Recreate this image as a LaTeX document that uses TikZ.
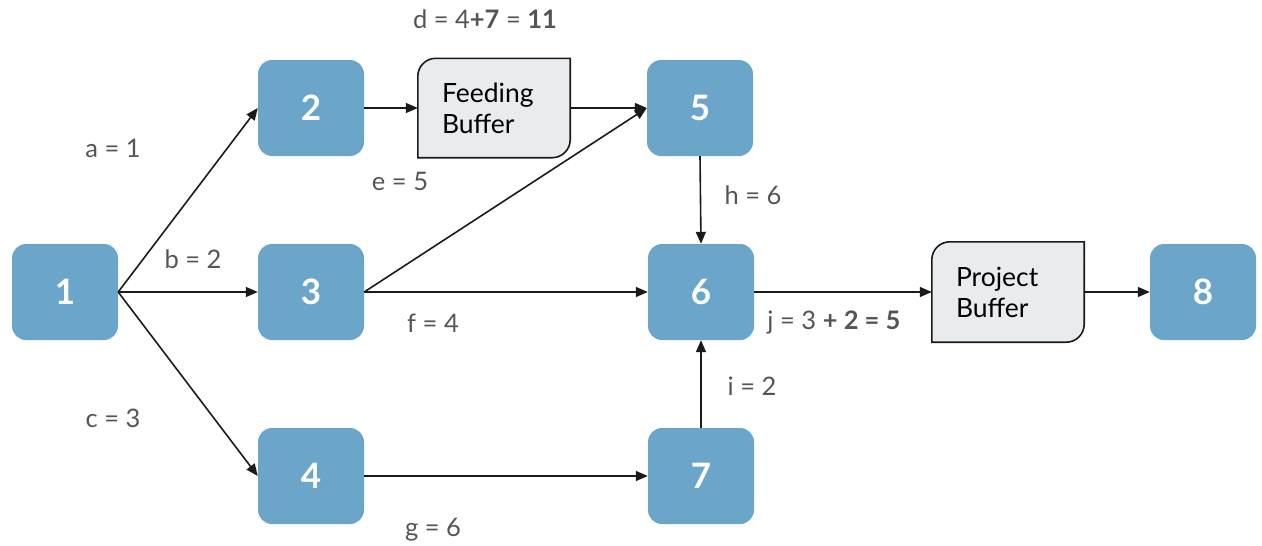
\documentclass[tikz,border=0pt]{standalone}
\usepackage{fontspec}
\setmainfont{Lato}
\usetikzlibrary{arrows.meta,backgrounds}
\definecolor{boxblue}{HTML}{6BA5CA}
\definecolor{labelgray}{HTML}{555555}
\definecolor{buffill}{HTML}{E9ECEE}
\definecolor{edgeblack}{HTML}{1A1A1A}
\tikzset{
  task/.style={rectangle, rounded corners=14pt, fill=boxblue, minimum width=106pt, minimum height=96pt,
    text=white, font=\fontsize{35}{40}\selectfont\bfseries, inner sep=0pt},
  bufnode/.style={rectangle, minimum width=152pt, minimum height=99pt, inner sep=0pt,
    text width=104pt, align=left, font=\fontsize{26.5}{31}\selectfont, text=black},
  bufshape/.style={draw=edgeblack, line width=1.6pt, fill=buffill},
  elabel/.style={text=labelgray, font=\fontsize{25.5}{30}\selectfont, inner sep=0pt},
  conn/.style={draw=edgeblack, line width=1.6pt, -{Triangle[length=12pt,width=10pt]}},
}
\begin{document}
\begin{tikzpicture}[x=1pt,y=-1pt]
  \useasboundingbox (0,0) rectangle (1262,546);

  % activity boxes
  \node[task] (n1) at (65,292) {1};
  \node[task] (n2) at (311,108) {2};
  \node[task] (n3) at (311,292) {3};
  \node[task] (n4) at (311,476) {4};
  \node[task] (n5) at (700,108) {5};
  \node[task] (n6) at (701,292) {6};
  \node[task] (n7) at (701,476) {7};
  \node[task] (n8) at (1203,292) {8};

  % buffers
  \node[bufnode] (fb) at (494,108) {Feeding\\Buffer};
  \node[bufnode, minimum height=100pt] (pb) at (1008,292) {Project\\Buffer};
  \begin{scope}[on background layer]
    \foreach \b in {fb,pb} {
      \draw[bufshape] (\b.south west) -- ([yshift=-18pt]\b.north west)
        arc[start angle=180, end angle=90, radius=18pt] -- (\b.north east)
        -- ([yshift=18pt]\b.south east)
        arc[start angle=0, end angle=-90, radius=18pt] -- cycle;
    }
  \end{scope}

  % connectors
  \draw[conn] (n1.east) -- (n2.west);
  \draw[conn] (n1.east) -- (n3.west);
  \draw[conn] (n1.east) -- (n4.west);
  \draw[conn] (n2.east) -- (fb.west);
  \draw[conn] (fb.east) -- (n5.west);
  \draw[conn] (n3.east) -- (n5.west);
  \draw[conn] (n3.east) -- (n6.west);
  \draw[conn] (n4.east) -- (n7.west);
  \draw[conn] (n5.south) -- (n6.north);
  \draw[conn] (n7.north) -- (n6.south);
  \draw[conn] (n6.east) -- (pb.west);
  \draw[conn] (pb.east) -- (n8.west);

  % durations
  \node[elabel] (la) at (113,148) {a = 1};
  \node[elabel] (lb) at (193,259) {b = 2};
  \node[elabel] (lc) at (113,418) {c = 3};
  \node[elabel] (ld) at (485,19) {d = 4\textbf{+7} = \textbf{11}};
  \node[elabel] (le) at (400,181) {e = 5};
  \node[elabel] (lf) at (433,323) {f = 4};
  \node[elabel] (lg) at (433,530) {g = 6};
  \node[elabel] (lh) at (753,195) {h = 6};
  \node[elabel] (li) at (752,386) {i = 2};
  \node[elabel] (lj) at (834,322) {j = 3 \textbf{+ 2 = 5}};
\end{tikzpicture}
\end{document}
